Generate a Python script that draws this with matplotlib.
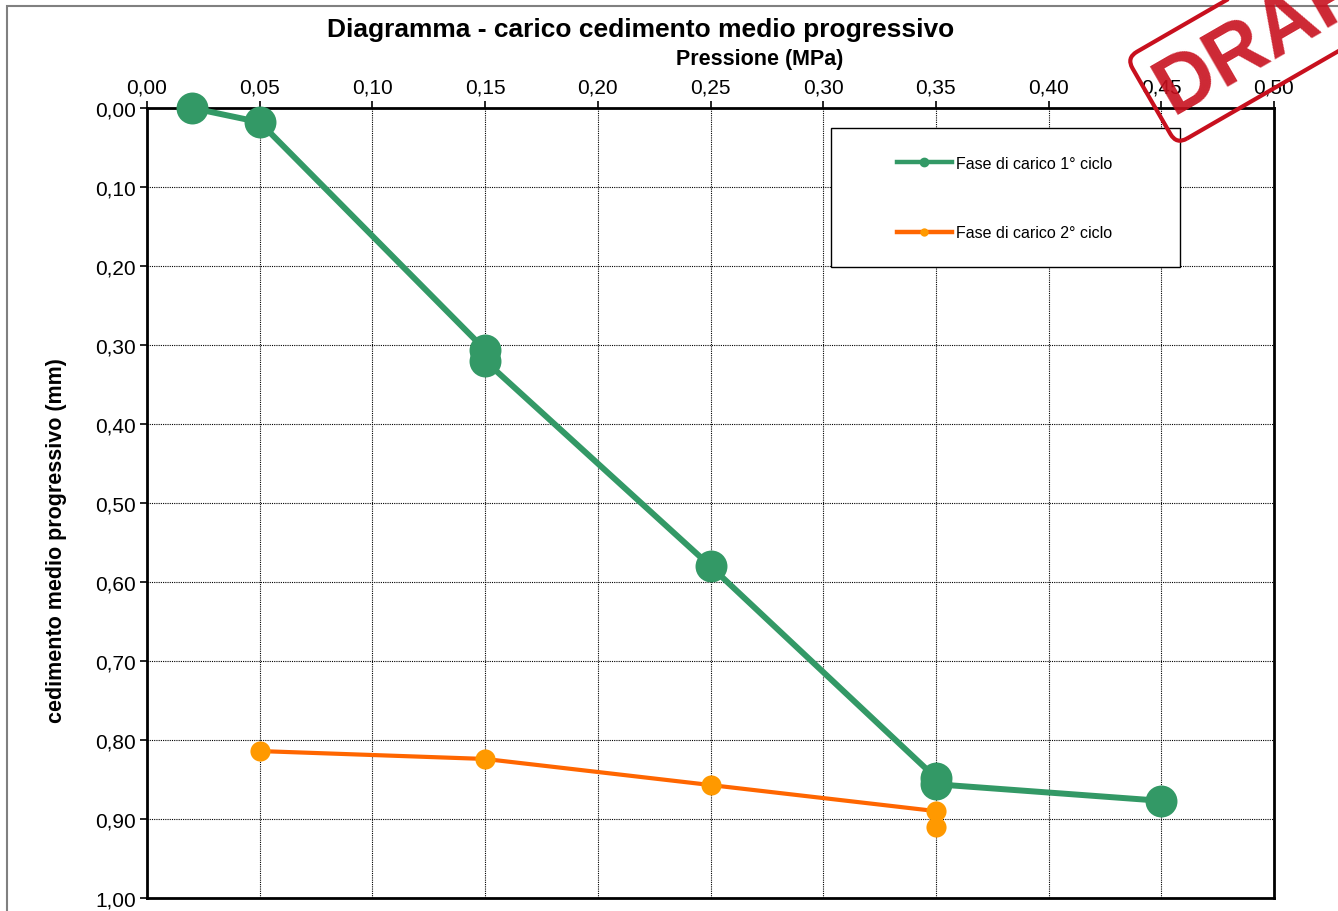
import matplotlib.pyplot as plt
from matplotlib.patches import Rectangle
from matplotlib.ticker import FuncFormatter, MultipleLocator

plt.rcParams['font.family'] = ['Liberation Sans', 'DejaVu Sans']

# Fase di carico 1° ciclo
pressione_1 = [0.02, 0.05, 0.15, 0.15, 0.25, 0.35, 0.35, 0.45]
cedimento_1 = [0.000, 0.018, 0.306, 0.320, 0.580, 0.848, 0.856, 0.877]

# Fase di carico 2° ciclo
pressione_2 = [0.05, 0.15, 0.25, 0.35, 0.35]
cedimento_2 = [0.814, 0.824, 0.857, 0.890, 0.910]

label_1 = 'Fase di carico 1° ciclo'
label_2 = 'Fase di carico 2° ciclo'

W, H = 1338, 912
fig = plt.figure(figsize=(W / 100, H / 100), dpi=100)
ax = fig.add_axes([147 / W, 1 - 899 / H, (1274 - 147) / W, (899 - 109) / H])

ax.plot(pressione_1, cedimento_1, color='#339966', linewidth=4.3,
        marker='o', markersize=23, markeredgewidth=0, clip_on=False, zorder=4)
ax.plot(pressione_2, cedimento_2, color='#FF6600', linewidth=3,
        marker='o', markersize=14.5, markerfacecolor='#FF9900', markeredgewidth=0,
        clip_on=False, zorder=3)

ax.set_xlim(0, 0.5)
ax.set_ylim(1.0, 0.0)
ax.xaxis.set_major_locator(MultipleLocator(0.05))
ax.yaxis.set_major_locator(MultipleLocator(0.10))
fmt = FuncFormatter(lambda v, pos: f'{v:.2f}'.replace('.', ','))
ax.xaxis.set_major_formatter(fmt)
ax.yaxis.set_major_formatter(fmt)
ax.xaxis.tick_top()
ax.tick_params(axis='both', labelsize=15, direction='out', length=5, width=1.2, pad=3)
ax.grid(True, color='black', linestyle=(0, (1, 1)), linewidth=0.8)
for s in ax.spines.values():
    s.set_linewidth(2)

# frame around the whole chart
fig.patches.append(Rectangle((7 / W, -0.1), 1.2, 1 - 7 / H + 0.1, transform=fig.transFigure,
                             fill=False, edgecolor='#808080', linewidth=1.5))

fig.text(641 / W, 1 - 30 / H, 'Diagramma - carico cedimento medio progressivo',
         ha='center', va='center', fontsize=19, fontweight='bold')
fig.text(760 / W, 1 - 59 / H, 'Pressione (MPa)', ha='center', va='center',
         fontsize=15.5, fontweight='bold')
fig.text(57 / W, 1 - 541 / H, 'cedimento medio progressivo (mm)', ha='center', va='center',
         rotation=90, fontsize=15.5, fontweight='bold')

# legend
fig.patches.append(Rectangle((831 / W, 1 - 268 / H), 349 / W, 139 / H, transform=fig.transFigure,
                             facecolor='white', edgecolor='black', linewidth=1, zorder=5))
h1, = ax.plot([], [], color='#339966', linewidth=3.2, marker='o', markersize=6)
h2, = ax.plot([], [], color='#FF6600', linewidth=3.2, marker='o', markersize=6,
              markerfacecolor='#FF9900', markeredgewidth=0)
leg = fig.legend([h1, h2], [label_1, label_2], loc='center',
                 bbox_to_anchor=(1005 / W, 1 - 199 / H), frameon=False, fontsize=11.5,
                 labelspacing=3.4, handlelength=3.4, handletextpad=0.3)
leg.set_zorder(6)

# draft stamp
fig.text(1280 / W, 1 - 28 / H, 'DRAFT', rotation=30, ha='center', va='center',
         fontsize=58, fontweight='bold', color='#C8101E', alpha=0.9,
         bbox=dict(boxstyle='round,pad=0.15', facecolor='none', edgecolor='#C8101E', linewidth=3),
         zorder=10)

fig.savefig('out.png', dpi=100)
